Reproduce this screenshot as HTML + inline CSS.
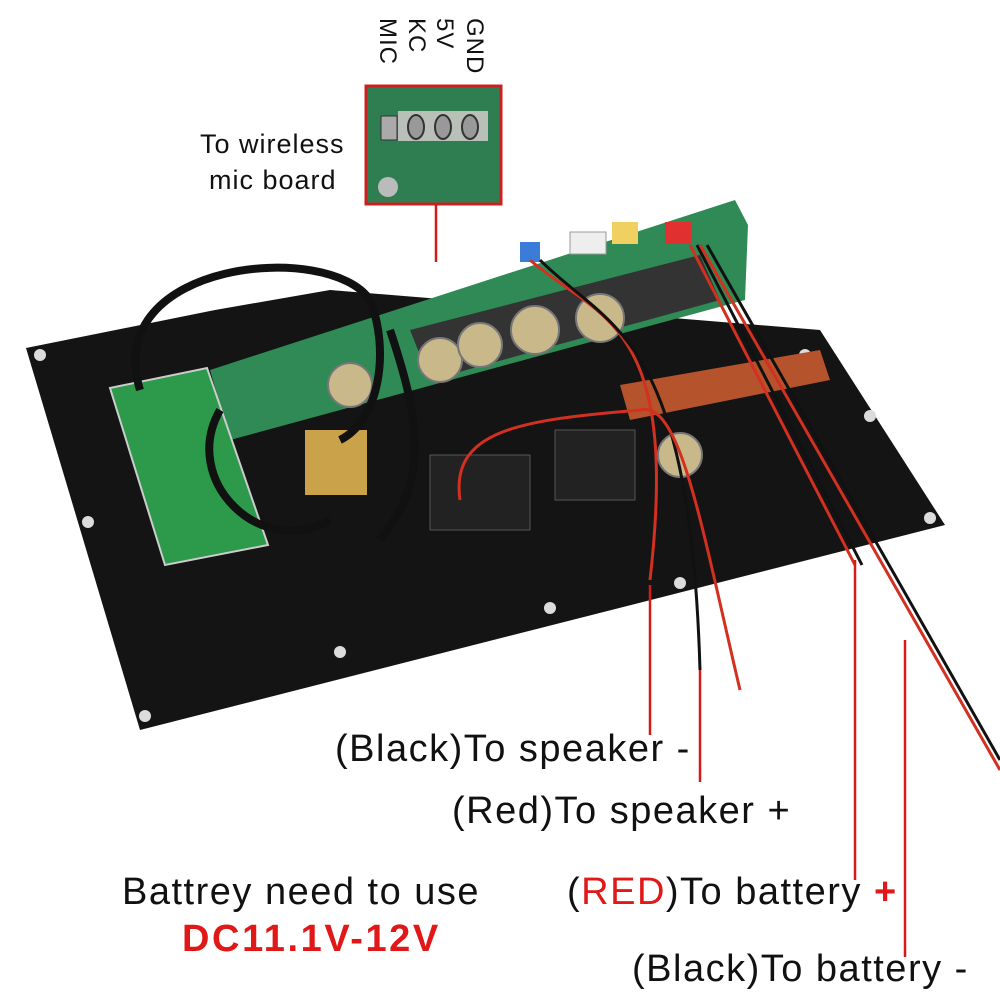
<!DOCTYPE html>
<html><head><meta charset="utf-8"><style>
html,body{margin:0;padding:0;background:#fff;}
#c{position:relative;width:1000px;height:1000px;overflow:hidden;font-family:"Liberation Sans",sans-serif;}
.t{position:absolute;white-space:nowrap;color:#111;font-size:38px;letter-spacing:1.5px;}
.v{position:absolute;writing-mode:vertical-rl;font-size:24px;color:#111;line-height:24px;top:18px;letter-spacing:1px;}
</style></head><body><div id="c">
<svg width="1000" height="1000" style="position:absolute;left:0;top:0">
<polygon points="26,348 215,310 330,290 820,330 945,525 140,730" fill="#141414"/>
<g fill="#dcdcdc">
<circle cx="40" cy="355" r="6"/><circle cx="88" cy="522" r="6"/><circle cx="145" cy="716" r="6"/>
<circle cx="340" cy="652" r="6"/><circle cx="550" cy="608" r="6"/><circle cx="680" cy="583" r="6"/>
<circle cx="930" cy="518" r="6"/><circle cx="870" cy="416" r="6"/><circle cx="805" cy="355" r="6"/>
</g>
<polygon points="210,370 735,200 748,225 745,300 230,440" fill="#2f8a55"/>
<polygon points="410,330 700,255 720,300 430,380" fill="#333"/>
<g fill="#c9b98a" stroke="#777" stroke-width="2">
<circle cx="440" cy="360" r="22"/><circle cx="480" cy="345" r="22"/><circle cx="535" cy="330" r="24"/><circle cx="600" cy="318" r="24"/><circle cx="350" cy="385" r="22"/><circle cx="680" cy="455" r="22"/>
</g>
<polygon points="620,385 820,350 830,380 630,420" fill="#b5532c"/>
<rect x="430" y="455" width="100" height="75" fill="#222" stroke="#555"/>
<rect x="555" y="430" width="80" height="70" fill="#222" stroke="#555"/>
<polygon points="110,388 207,368 268,545 165,565" fill="#2c9a4a" stroke="#ccc" stroke-width="2"/>
<rect x="305" y="430" width="62" height="65" fill="#c9a24a"/>
<g fill="none" stroke="#111" stroke-width="8">
<path d="M140,390 C100,260 330,240 370,300 C390,350 380,420 340,440"/>
<path d="M220,410 C180,480 260,560 330,520"/>
<path d="M390,330 C420,420 430,480 380,540"/>
</g>
<rect x="520" y="242" width="20" height="20" fill="#3a7cd8"/>
<rect x="570" y="232" width="36" height="22" fill="#eee" stroke="#999"/>
<rect x="612" y="222" width="26" height="22" fill="#f0d060"/>
<rect x="665" y="222" width="26" height="22" fill="#e03030"/>
<g fill="none" stroke-width="3">
<path d="M530,260 C600,320 680,320 650,580" stroke="#d23020"/>
<path d="M540,260 C610,330 690,330 700,670" stroke="#111"/>
<path d="M460,500 C450,430 520,420 640,410 C680,400 700,520 740,690" stroke="#d23020"/>
<path d="M690,245 L855,565" stroke="#d23020"/>
<path d="M697,245 L862,565" stroke="#111"/>
<path d="M700,245 L1000,770" stroke="#d23020"/>
<path d="M707,245 L1000,760" stroke="#111"/>
</g>
<g stroke="#d41a1a" stroke-width="2.5">
<line x1="650" y1="585" x2="650" y2="735"/>
<line x1="700" y1="670" x2="700" y2="782"/>
<line x1="855" y1="560" x2="855" y2="880"/>
<line x1="905" y1="640" x2="905" y2="957"/>
<line x1="436" y1="205" x2="436" y2="262"/>
</g>
<rect x="366" y="86" width="135" height="118" fill="#2f7e52" stroke="#cc2020" stroke-width="3"/>
<rect x="398" y="111" width="90" height="30" fill="#b8c0b8"/>
<rect x="381" y="116" width="16" height="24" fill="#aaa" stroke="#333"/>
<g fill="#999" stroke="#333" stroke-width="2"><ellipse cx="416" cy="127" rx="8" ry="12"/><ellipse cx="443" cy="127" rx="8" ry="12"/><ellipse cx="470" cy="127" rx="8" ry="12"/></g>
<circle cx="388" cy="187" r="10" fill="#bbb"/>
</svg>
<div class="v" style="left:375px">MIC</div>
<div class="v" style="left:404px">KC</div>
<div class="v" style="left:432px">5V</div>
<div class="v" style="left:462px">GND</div>
<div class="t" style="left:200px;top:129px;font-size:27px;letter-spacing:1px;">To wireless</div>
<div class="t" style="left:209px;top:165px;font-size:27px;letter-spacing:1px;">mic board</div>
<div class="t" style="left:335px;top:728px;">(Black)To speaker -</div>
<div class="t" style="left:452px;top:790px;">(Red)To speaker +</div>
<div class="t" style="left:122px;top:871px;">Battrey need to use</div>
<div class="t" style="left:182px;top:918px;font-weight:bold;color:#e01818;letter-spacing:2.6px;">DC11.1V-12V</div>
<div class="t" style="left:567px;top:871px;">(<span style="color:#e01818">RED</span>)To battery <span style="color:#e01818;font-weight:bold">+</span></div>
<div class="t" style="left:632px;top:948px;">(Black)To battery -</div>
</div></body></html>
